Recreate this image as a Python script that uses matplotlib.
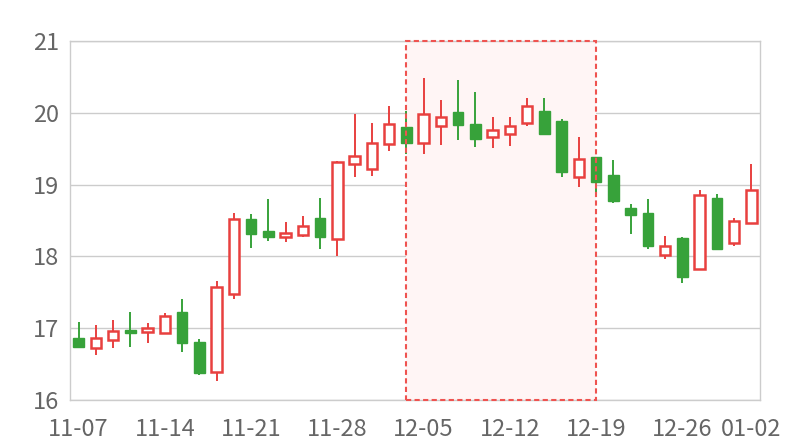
import matplotlib
matplotlib.use("Agg")
import matplotlib.pyplot as plt
from matplotlib.patches import Rectangle

dates = ["11-07", "11-08", "11-09", "11-10", "11-11",
         "11-14", "11-15", "11-16", "11-17", "11-18",
         "11-21", "11-22", "11-23", "11-24", "11-25",
         "11-28", "11-29", "11-30", "12-01", "12-02",
         "12-05", "12-06", "12-07", "12-08", "12-09",
         "12-12", "12-13", "12-14", "12-15", "12-16",
         "12-19", "12-20", "12-21", "12-22", "12-23",
         "12-26", "12-27", "12-28", "12-29", "01-02"]

opens = [16.87, 16.73, 16.83, 16.97, 16.95, 16.94, 17.23, 16.81, 16.39, 17.48,
         18.52, 18.35, 18.27, 18.30, 18.53, 18.24, 19.28, 19.22, 19.57, 19.80,
         19.58, 19.82, 20.01, 19.84, 19.66, 19.71, 19.86, 20.02, 19.89, 19.10,
         19.38, 19.14, 18.68, 18.60, 18.02, 18.25, 17.82, 18.82, 18.18, 18.46]
closes = [16.74, 16.87, 16.96, 16.94, 17.00, 17.17, 16.79, 16.37, 17.57, 18.52,
          18.31, 18.27, 18.33, 18.42, 18.27, 19.31, 19.40, 19.58, 19.85, 19.58,
          19.98, 19.94, 19.83, 19.64, 19.76, 19.81, 20.10, 19.71, 19.18, 19.36,
          19.04, 18.77, 18.58, 18.15, 18.15, 17.71, 18.86, 18.10, 18.49, 18.92]
lows = [16.73, 16.62, 16.73, 16.74, 16.80, 16.92, 16.67, 16.35, 16.26, 17.41,
        18.12, 18.22, 18.20, 18.27, 18.11, 18.01, 19.11, 19.12, 19.47, 19.42,
        19.42, 19.55, 19.62, 19.52, 19.51, 19.54, 19.82, 19.70, 19.11, 18.97,
        18.89, 18.74, 18.31, 18.11, 17.96, 17.63, 17.82, 18.09, 18.14, 18.46]
highs = [17.09, 17.04, 17.11, 17.22, 17.07, 17.21, 17.40, 16.85, 17.66, 18.61,
         18.59, 18.80, 18.48, 18.56, 18.81, 19.33, 19.99, 19.86, 20.09, 20.02,
         20.49, 20.18, 20.46, 20.29, 19.94, 19.94, 20.21, 20.20, 19.91, 19.66,
         19.39, 19.34, 18.73, 18.80, 18.29, 18.27, 18.92, 18.87, 18.53, 19.29]

shade_start = "12-02"
shade_end = "12-19"

y_ticks = [16, 17, 18, 19, 20, 21]

UP = "#e8403f"
DOWN = "#37a23a"
GRID = "#cccccc"
TXT = "#666666"

plt.rcParams['font.family'] = ['Noto Sans CJK SC', 'DejaVu Sans']

fig = plt.figure(figsize=(8, 4.4), dpi=100)
ax = fig.add_axes([70 / 800, 40 / 440, 690 / 800, 359 / 440])

n = len(dates)
ax.set_xlim(-0.5, n - 0.5)
ax.set_ylim(y_ticks[0], y_ticks[-1])

# mark area
s = dates.index(shade_start)
e = dates.index(shade_end)
ax.add_patch(Rectangle((s, y_ticks[0]), e - s, y_ticks[-1] - y_ticks[0],
                       facecolor="#fff5f5", edgecolor="none", zorder=1))
ax.add_patch(Rectangle((s, y_ticks[0]), e - s, y_ticks[-1] - y_ticks[0],
                       facecolor="none", edgecolor="#ef5350", linewidth=1.5,
                       linestyle=(0, (2.5, 1.6)), zorder=5, clip_on=False))

w = 0.62
for i in range(n):
    o, c, lo, hi = opens[i], closes[i], lows[i], highs[i]
    up = c >= o
    col = UP if up else DOWN
    ax.vlines(i, lo, hi, color=col, linewidth=1.4, zorder=3)
    bot = min(o, c)
    h = max(abs(c - o), 0.012)
    if up:
        ax.add_patch(Rectangle((i - w / 2, bot), w, h, facecolor="white",
                               edgecolor=col, linewidth=1.8, zorder=4))
    else:
        ax.add_patch(Rectangle((i - w / 2, bot), w, h, facecolor=col,
                               edgecolor=col, linewidth=1.0, zorder=4))

ax.set_yticks(y_ticks)
ax.set_yticklabels([str(v) for v in y_ticks])
tick_idx = list(range(0, n, 5))
if tick_idx[-1] != n - 1:
    tick_idx.append(n - 1)
ax.set_xticks(tick_idx)
ax.set_xticklabels([dates[i] for i in tick_idx])

ax.grid(axis="y", color=GRID, linewidth=1.0, zorder=0)
ax.set_axisbelow(True)
for sp in ax.spines.values():
    sp.set_color(GRID)
    sp.set_linewidth(1.0)
ax.tick_params(length=0, labelsize=17, colors=TXT)
ax.tick_params(axis="y", pad=8)
ax.tick_params(axis="x", pad=13)

fig.savefig("out.png", dpi=100, facecolor="white")
